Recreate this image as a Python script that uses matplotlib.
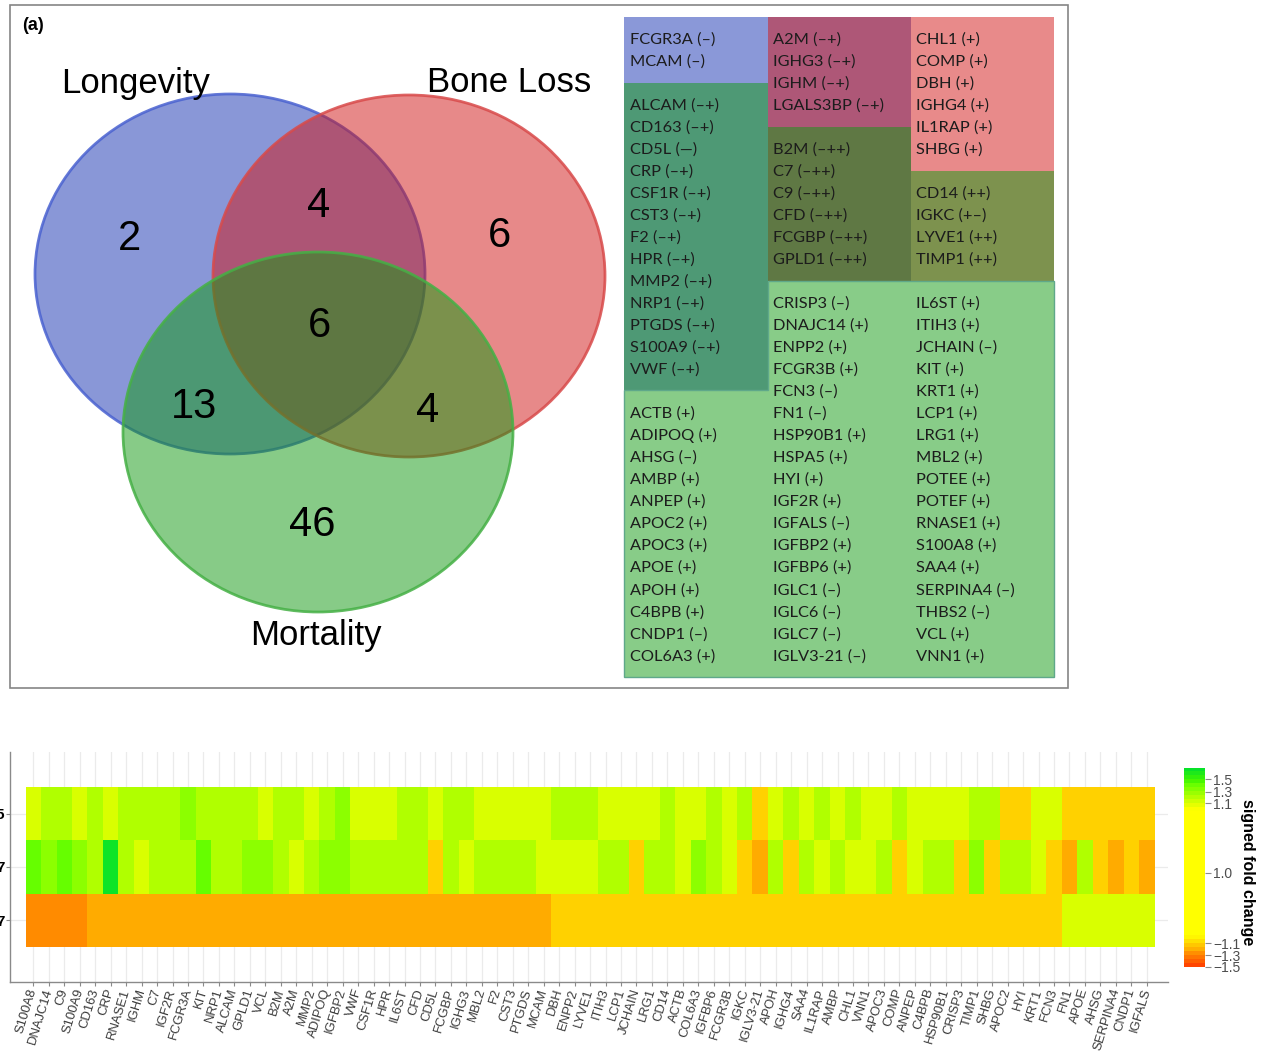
import numpy as np
import matplotlib
matplotlib.use("Agg")
import matplotlib.pyplot as plt
from matplotlib.patches import Ellipse, Rectangle, Polygon
from matplotlib.colors import LinearSegmentedColormap, FuncNorm, to_rgb
from matplotlib import font_manager

# ------------------------------------------------------------------ data
set_names = ["Longevity", "Bone Loss", "Mortality"]
n_L, n_B, n_M = 2, 6, 46
n_LB, n_LM, n_BM, n_LBM = 4, 13, 4, 6

genes_L = ["FCGR3A (\u2013)", "MCAM (\u2013)"]
genes_LM = ["ALCAM (\u2013+)", "CD163 (\u2013+)", "CD5L (\u2014)", "CRP (\u2013+)",
            "CSF1R (\u2013+)", "CST3 (\u2013+)", "F2 (\u2013+)", "HPR (\u2013+)",
            "MMP2 (\u2013+)", "NRP1 (\u2013+)", "PTGDS (\u2013+)", "S100A9 (\u2013+)",
            "VWF (\u2013+)"]
genes_LB = ["A2M (\u2013+)", "IGHG3 (\u2013+)", "IGHM (\u2013+)", "LGALS3BP (\u2013+)"]
genes_LBM = ["B2M (\u2013++)", "C7 (\u2013++)", "C9 (\u2013++)", "CFD (\u2013++)",
             "FCGBP (\u2013++)", "GPLD1 (\u2013++)"]
genes_B = ["CHL1 (+)", "COMP (+)", "DBH (+)", "IGHG4 (+)", "IL1RAP (+)", "SHBG (+)"]
genes_BM = ["CD14 (++)", "IGKC (+\u2013)", "LYVE1 (++)", "TIMP1 (++)"]
genes_M_col1 = ["ACTB (+)", "ADIPOQ (+)", "AHSG (\u2013)", "AMBP (+)", "ANPEP (+)",
                "APOC2 (+)", "APOC3 (+)", "APOE (+)", "APOH (+)", "C4BPB (+)",
                "CNDP1 (\u2013)", "COL6A3 (+)"]
genes_M_col2 = ["CRISP3 (\u2013)", "DNAJC14 (+)", "ENPP2 (+)", "FCGR3B (+)", "FCN3 (\u2013)",
                "FN1 (\u2013)", "HSP90B1 (+)", "HSPA5 (+)", "HYI (+)", "IGF2R (+)",
                "IGFALS (\u2013)", "IGFBP2 (+)", "IGFBP6 (+)", "IGLC1 (\u2013)",
                "IGLC6 (\u2013)", "IGLC7 (\u2013)", "IGLV3-21 (\u2013)"]
genes_M_col3 = ["IL6ST (+)", "ITIH3 (+)", "JCHAIN (\u2013)", "KIT (+)", "KRT1 (+)",
                "LCP1 (+)", "LRG1 (+)", "MBL2 (+)", "POTEE (+)", "POTEF (+)",
                "RNASE1 (+)", "S100A8 (+)", "SAA4 (+)", "SERPINA4 (\u2013)",
                "THBS2 (\u2013)", "VCL (+)", "VNN1 (+)"]

heat_genes = ["S100A8", "DNAJC14", "C9", "S100A9", "CD163", "CRP", "RNASE1", "IGHM",
              "C7", "IGF2R", "FCGR3A", "KIT", "NRP1", "ALCAM", "GPLD1", "VCL", "B2M",
              "A2M", "MMP2", "ADIPOQ", "IGFBP2", "VWF", "CSF1R", "HPR", "IL6ST", "CFD",
              "CD5L", "FCGBP", "IGHG3", "MBL2", "F2", "CST3", "PTGDS", "MCAM", "DBH",
              "ENPP2", "LYVE1", "ITIH3", "LCP1", "JCHAIN", "LRG1", "CD14", "ACTB",
              "COL6A3", "IGFBP6", "FCGR3B", "IGKC", "IGLV3-21", "APOH", "IGHG4", "SAA4",
              "IL1RAP", "AMBP", "CHL1", "VNN1", "APOC3", "COMP", "ANPEP", "C4BPB",
              "HSP90B1", "CRISP3", "TIMP1", "SHBG", "APOC2", "HYI", "KRT1", "FCN3",
              "FN1", "APOE", "AHSG", "SERPINA4", "CNDP1", "IGFALS"]
row_labels = ["5", "7", "7"]

fc_bone_loss = [1.1, 1.2, 1.2, 1.1, 1.2, 1.1, 1.2, 1.2, 1.2, 1.2,
                1.3, 1.2, 1.2, 1.2, 1.2, 1.1, 1.2, 1.2, 1.1, 1.2,
                1.3, 1.1, 1.1, 1.1, 1.2, 1.2, 1.1, 1.2, 1.2, 1.1,
                1.1, 1.1, 1.1, 1.1, 1.2, 1.2, 1.2, 1.1, 1.1, 1.1,
                1.1, 1.2, 1.1, 1.1, 1.2, 1.1, 1.2, -1.1, 1.1, 1.2,
                1.1, 1.2, 1.1, 1.2, 1.1, 1.1, 1.2, 1.1, 1.1, 1.1,
                1.1, 1.2, 1.2, -1.1, -1.1, 1.1, 1.1, -1.1, -1.1, -1.1,
                -1.1, -1.1, -1.1]
fc_mortality = [1.4, 1.3, 1.4, 1.3, 1.2, 1.65, 1.2, 1.1, 1.2, 1.2,
                1.2, 1.4, 1.2, 1.2, 1.3, 1.3, 1.2, 1.1, 1.2, 1.3,
                1.3, 1.2, 1.2, 1.2, 1.2, 1.2, -1.1, 1.2, 1.1, 1.2,
                1.2, 1.2, 1.2, 1.1, 1.1, 1.1, 1.1, 1.2, 1.2, -1.1,
                1.2, 1.2, 1.1, 1.3, 1.2, 1.1, -1.1, -1.2, 1.2, -1.1,
                1.2, 1.1, 1.2, 1.1, 1.1, 1.2, -1.1, 1.1, 1.2, 1.2,
                -1.1, 1.3, -1.1, 1.2, 1.2, 1.1, -1.1, -1.2, 1.2, -1.1,
                -1.2, -1.1, -1.2]
fc_longevity = [-1.28, -1.28, -1.28, -1.28, -1.2, -1.2, -1.2, -1.2, -1.2, -1.2,
                -1.2, -1.2, -1.2, -1.2, -1.2, -1.2, -1.2, -1.2, -1.2, -1.2,
                -1.2, -1.2, -1.2, -1.2, -1.2, -1.2, -1.2, -1.2, -1.2, -1.2,
                -1.2, -1.2, -1.2, -1.2, -1.1, -1.1, -1.1, -1.1, -1.1, -1.1,
                -1.1, -1.1, -1.1, -1.1, -1.1, -1.1, -1.1, -1.1, -1.1, -1.1,
                -1.1, -1.1, -1.1, -1.1, -1.1, -1.1, -1.1, -1.1, -1.1, -1.1,
                -1.1, -1.1, -1.1, -1.1, -1.1, -1.1, -1.1, 1.1, 1.1, 1.1,
                1.1, 1.1, 1.1]

cbar_ticks = [-1.5, -1.3, -1.1, 1.0, 1.1, 1.3, 1.5]
cbar_ticklabels = ["\u22121.5", "\u22121.3", "\u22121.1", "1.0", "1.1", "1.3", "1.5"]

# ------------------------------------------------------------------ styling
W, H = 1261, 1051
available = {f.name for f in font_manager.fontManager.ttflist}
SANS = "Liberation Sans" if "Liberation Sans" in available else "DejaVu Sans"
NARROW = "Liberation Sans Narrow" if "Liberation Sans Narrow" in available else SANS
TABLE_FONT = "Lato" if "Lato" in available else SANS

# base fills of the three sets, drawn at 50 % opacity
set_fill = ["#1531b1", "#d11515", "#119911"]
set_edge = ["#4a62d0", "#d84a4a", "#45b045"]
ALPHA = 0.5


def over(top, below):
    t, b = np.array(to_rgb(top)), np.array(below)
    return ALPHA * t + (1 - ALPHA) * b


white = np.ones(3)
c_L = over(set_fill[0], white)
c_B = over(set_fill[1], white)
c_M = over(set_fill[2], white)
c_LB = over(set_fill[1], c_L)
c_LM = over(set_fill[2], c_L)
c_BM = over(set_fill[2], c_B)
c_LBM = over(set_fill[2], c_LB)

fig = plt.figure(figsize=(W / 100, H / 100), dpi=100)
bg = fig.add_axes([0, 0, 1, 1])
bg.set_xlim(0, W)
bg.set_ylim(H, 0)
bg.axis("off")

# outer frame and panel tag
bg.add_patch(Rectangle((10, 5), 1058, 683, fill=False, ec="#858585", lw=1.2))
bg.text(22, 30, "(a)", fontsize=13, fontweight="bold", family=SANS, va="baseline")

# ------------------------------------------------------------------ Venn
ellipses = [((230, 274), 390, 360), ((409, 276), 392, 362), ((318, 432), 390, 360)]
for ((cx, cy), w, h), fc, ec in zip(ellipses, set_fill, set_edge):
    bg.add_patch(Ellipse((cx, cy), w, h, facecolor=matplotlib.colors.to_rgba(fc, ALPHA),
                         edgecolor=matplotlib.colors.to_rgba(ec, 0.85), lw=2))

bg.text(136, 93, set_names[0], fontsize=25, family=SANS, ha="center", va="baseline")
bg.text(509, 92, set_names[1], fontsize=25, family=SANS, ha="center", va="baseline")
bg.text(316, 645, set_names[2], fontsize=25, family=SANS, ha="center", va="baseline")

counts = [(n_L, 129, 235), (n_LB, 319, 202), (n_B, 499, 232), (n_LBM, 319, 322),
          (n_LM, 194, 403), (n_BM, 428, 407), (n_M, 312, 521)]
for n, x, y in counts:
    bg.text(x, y + 15, str(n), fontsize=30, family=SANS, ha="center", va="baseline")

# ------------------------------------------------------------------ gene table
X1, X2, X3, X4 = 624, 768, 911, 1054
y_top, y_a, y_b, y_c, y_d, y_e, y_bot = 17, 83, 127, 171, 281, 390, 677
boxes = [
    (X1, y_top, X2, y_a, c_L), (X1, y_a, X2, y_e, c_LM), (X2, y_top, X3, y_b, c_LB),
    (X2, y_b, X3, y_d, c_LBM), (X3, y_top, X4, y_c, c_B), (X3, y_c, X4, y_d, c_BM),
]
for x0, y0, x1, y1, c in boxes:
    bg.add_patch(Rectangle((x0, y0), x1 - x0, y1 - y0, facecolor=c, edgecolor="none"))
bg.add_patch(Polygon([(X2, y_d), (X4, y_d), (X4, y_bot), (X1, y_bot), (X1, y_e), (X2, y_e)],
                     closed=True, facecolor=c_M, edgecolor="#5fa88a", lw=1))

LINE0, STEP = 39.3, 22.03
col_x = [630, 773, 916]
columns = [
    [(0, genes_L), (3, genes_LM), (17, genes_M_col1)],
    [(0, genes_LB), (5, genes_LBM), (12, genes_M_col2)],
    [(0, genes_B), (7, genes_BM), (12, genes_M_col3)],
]
for x, blocks in zip(col_x, columns):
    for start, names in blocks:
        for k, name in enumerate(names):
            bg.text(x, LINE0 + STEP * (start + k), name, fontsize=11.8, family=TABLE_FONT,
                    color="#1c1c1c", ha="left", va="center")

# ------------------------------------------------------------------ heatmap
pos_vals = [-1.5, -1.3, -1.1, 1.0, 1.1, 1.3, 1.5, 1.7]
pos_frac = [0.0, 0.0578, 0.1206, 0.4724, 0.8241, 0.8819, 0.9447, 1.0]


def fwd(v):
    return np.interp(v, pos_vals, pos_frac)


def inv(f):
    return np.interp(f, pos_frac, pos_vals)


norm = FuncNorm((fwd, inv), vmin=-1.5, vmax=1.7)
cmap = LinearSegmentedColormap.from_list("signed_fc", [
    (0.0, "#ff3c00"), (0.058, "#ff8400"), (0.09, "#ffb000"), (0.121, "#ffd500"),
    (0.156, "#ffff00"), (0.79, "#ffff00"), (0.824, "#d8ff00"), (0.853, "#b2ff00"),
    (0.882, "#8cff00"), (0.912, "#68ff00"), (0.94, "#40f500"), (1.0, "#00e030")])

data = np.array([fc_bone_loss, fc_mortality, fc_longevity])
n_cols = len(heat_genes)

ax = fig.add_axes([10 / W, 1 - 982 / H, 1158 / W, 230 / H])
ax.pcolormesh(np.arange(n_cols + 1) - 0.5, np.arange(4) - 0.5, data, cmap=cmap, norm=norm,
              edgecolors="none")
ax.set_xlim(-1.51, n_cols - 0.5 + 0.87)
ax.set_ylim(3.16, -1.16)
ax.set_axisbelow(True)
ax.grid(axis="x", color="#ebebeb", lw=0.9)
ax.grid(axis="y", color="#ebebeb", lw=0.9)
for s in ["top", "right"]:
    ax.spines[s].set_visible(False)
for s in ["left", "bottom"]:
    ax.spines[s].set_color("#8a8a8a")
    ax.spines[s].set_linewidth(1.0)
ax.set_xticks(np.arange(n_cols))
ax.set_xticklabels(heat_genes, rotation=73, ha="right", va="center", fontsize=9.4,
                   family=NARROW, color="#3a3a3a", rotation_mode="anchor")
ax.set_yticks([0, 1, 2])
ax.set_yticklabels(row_labels, fontsize=11, fontweight="bold", family=SANS, color="black")
ax.tick_params(axis="x", length=3, width=0.8, color="#8a8a8a", pad=2)
ax.tick_params(axis="y", length=3, width=0.8, color="#8a8a8a", pad=1)

# ------------------------------------------------------------------ colour bar
cax = fig.add_axes([1184 / W, 1 - 967 / H, 21 / W, 199 / H])
nbin = 50
grad = (np.arange(nbin) + 0.5) / nbin
cax.imshow(inv(grad)[:, None], cmap=cmap, norm=norm, aspect="auto", origin="lower",
           extent=(0, 1, 0, 1), interpolation="nearest")
cax.set_xlim(0, 1)
cax.set_ylim(0, 1)
cax.set_xticks([])
cax.yaxis.tick_right()
cax.set_yticks(fwd(np.array(cbar_ticks)))
cax.set_yticklabels(cbar_ticklabels, fontsize=10, family=SANS, color="#4d4d4d")
cax.tick_params(axis="y", length=4, width=0.8, color="#8a8a8a", pad=2)
for s in cax.spines.values():
    s.set_visible(False)
fig.text(1247 / W, 1 - 872 / H, "signed fold change", rotation=270, fontsize=11.5,
         fontweight="bold", family=SANS, ha="center", va="center")

fig.savefig("out.png", dpi=100)
